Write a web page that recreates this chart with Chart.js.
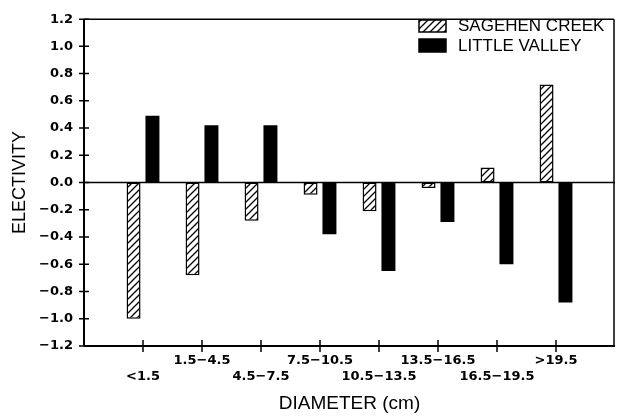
<!DOCTYPE html>
<html>
<head>
<meta charset="utf-8">
<script src="https://cdn.jsdelivr.net/npm/chart.js@4.4.1/dist/chart.umd.min.js"></script>
<style>
  html, body { margin: 0; padding: 0; background: #fff; }
  #wrap { width: 621px; height: 417px; }
</style>
</head>
<body>
<div id="wrap"><canvas id="electivityChart" width="621" height="417"></canvas></div>
<script>
// values
const categories = ['<1.5', '1.5\u22124.5', '4.5\u22127.5', '7.5\u221210.5', '10.5\u221213.5', '13.5\u221216.5', '16.5\u221219.5', '>19.5'];
const sagehenCreek = [-1.0, -0.68, -0.28, -0.09, -0.21, -0.04, 0.11, 0.72];
const littleValley = [0.49, 0.42, 0.42, -0.38, -0.65, -0.29, -0.60, -0.88];
const yTicks = [-1.2, -1.0, -0.8, -0.6, -0.4, -0.2, 0.0, 0.2, 0.4, 0.6, 0.8, 1.0, 1.2];

// hatch pattern for Sagehen Creek bars
function makeHatch() {
    const s = 7;
    const c = document.createElement('canvas');
    c.width = s; c.height = s;
    const g = c.getContext('2d');
    g.fillStyle = '#fff';
    g.fillRect(0, 0, s, s);
    g.strokeStyle = '#000';
    g.lineWidth = 1.3;
    g.beginPath();
    g.moveTo(0, s); g.lineTo(s, 0);
    g.moveTo(-1, 1); g.lineTo(1, -1);
    g.moveTo(s - 1, s + 1); g.lineTo(s + 1, s - 1);
    g.stroke();
    return g.createPattern(c, 'repeat');
}

const ctx = document.getElementById('electivityChart').getContext('2d');
const hatch = makeHatch();

// empty slots at both ends so the first category sits one step off the y axis
const labels = [''].concat(categories.map((c, i) => (i % 2 === 0 ? ['', c] : [c])), ['']);
const pad = arr => [null].concat(arr, [null]);

const fmt = v => {
    if (Math.abs(v) < 1e-9) return '0.0';
    return (v < 0 ? '\u2212' : '') + Math.abs(v).toFixed(1);
};

const tickFont = { family: '"DejaVu Sans", sans-serif', size: 13, weight: 'bold', lineHeight: 1.25 };

// frame, zero line, crossing tick marks and the legend
const framePlugin = {
    id: 'frame',
    afterDatasetsDraw(chart) {
        const { ctx, chartArea: a, scales: { x, y } } = chart;
        ctx.save();
        ctx.strokeStyle = '#000';
        ctx.lineWidth = 1.5;
        ctx.beginPath();
        ctx.moveTo(a.left, a.top); ctx.lineTo(a.right - 1, a.top);
        ctx.moveTo(a.right - 1, a.top); ctx.lineTo(a.right - 1, a.bottom);
        const y0 = y.getPixelForValue(0);
        ctx.moveTo(a.left, y0); ctx.lineTo(a.right, y0);
        ctx.stroke();

        ctx.lineWidth = 2;
        ctx.beginPath();
        ctx.moveTo(a.left, a.top); ctx.lineTo(a.left, a.bottom);
        ctx.moveTo(a.left, a.bottom); ctx.lineTo(a.right, a.bottom);
        ctx.stroke();

        ctx.lineWidth = 1.5;
        ctx.beginPath();
        yTicks.forEach(v => {
            const py = y.getPixelForValue(v);
            ctx.moveTo(a.left - 5, py); ctx.lineTo(a.left + 5, py);
        });
        categories.forEach((c, i) => {
            const px = x.getPixelForValue(i + 1);
            ctx.moveTo(px, a.bottom - 6); ctx.lineTo(px, a.bottom + 6);
        });
        ctx.stroke();

        // legend
        const ds = chart.data.datasets;
        const rows = [{ top: 20, h: 12, mid: 26 }, { top: 39, h: 13, mid: 46 }];
        ctx.font = '17px "Liberation Sans", Arial, sans-serif';
        ctx.textBaseline = 'middle';
        ctx.textAlign = 'left';
        ds.forEach((d, i) => {
            const r = rows[i];
            ctx.fillStyle = d.backgroundColor;
            ctx.fillRect(419, r.top, 27, r.h);
            ctx.lineWidth = 1.5;
            ctx.strokeStyle = '#000';
            ctx.strokeRect(419, r.top, 27, r.h);
            ctx.fillStyle = '#000';
            ctx.fillText(d.label, 458, r.mid);
        });
        ctx.restore();
    }
};

new Chart(ctx, {
    type: 'bar',
    data: {
        labels: labels,
        datasets: [{
            label: 'SAGEHEN CREEK',
            data: pad(sagehenCreek),
            backgroundColor: hatch,
            borderColor: '#000',
            borderWidth: 1.5,
            borderSkipped: false,
            categoryPercentage: 0.64,
            barPercentage: 0.74
        }, {
            label: 'LITTLE VALLEY',
            data: pad(littleValley),
            backgroundColor: '#000',
            borderColor: '#000',
            borderWidth: 0,
            categoryPercentage: 0.64,
            barPercentage: 0.74
        }]
    },
    options: {
        responsive: false,
        animation: false,
        layout: { padding: { top: 13, right: 0, left: 0, bottom: 0 } },
        plugins: {
            legend: { display: false },
            tooltip: { enabled: false }
        },
        scales: {
            x: {
                offset: false,
                grid: { display: false, drawTicks: false },
                border: { display: false },
                ticks: {
                    autoSkip: false,
                    maxRotation: 0,
                    minRotation: 0,
                    padding: 6,
                    color: '#000',
                    font: tickFont
                },
                title: {
                    display: true,
                    text: 'DIAMETER (cm)',
                    color: '#000',
                    padding: { top: 0, bottom: 2 },
                    font: { family: '"Liberation Sans", Arial, sans-serif', size: 19, lineHeight: 1.2 }
                },
                afterFit(scale) { scale.height = 71; }
            },
            y: {
                min: -1.2,
                max: 1.2,
                grid: { display: false, drawTicks: false },
                border: { display: false },
                afterBuildTicks(scale) { scale.ticks = yTicks.map(v => ({ value: v })); },
                ticks: {
                    padding: 11,
                    color: '#000',
                    callback: v => fmt(v),
                    font: tickFont
                },
                title: {
                    display: true,
                    text: 'ELECTIVITY',
                    color: '#000',
                    padding: { top: 9, bottom: 0 },
                    font: { family: '"Liberation Sans", Arial, sans-serif', size: 18, lineHeight: 1.2 }
                },
                afterFit(scale) { scale.width = 84; }
            }
        }
    },
    plugins: [framePlugin]
});
</script>
</body>
</html>
